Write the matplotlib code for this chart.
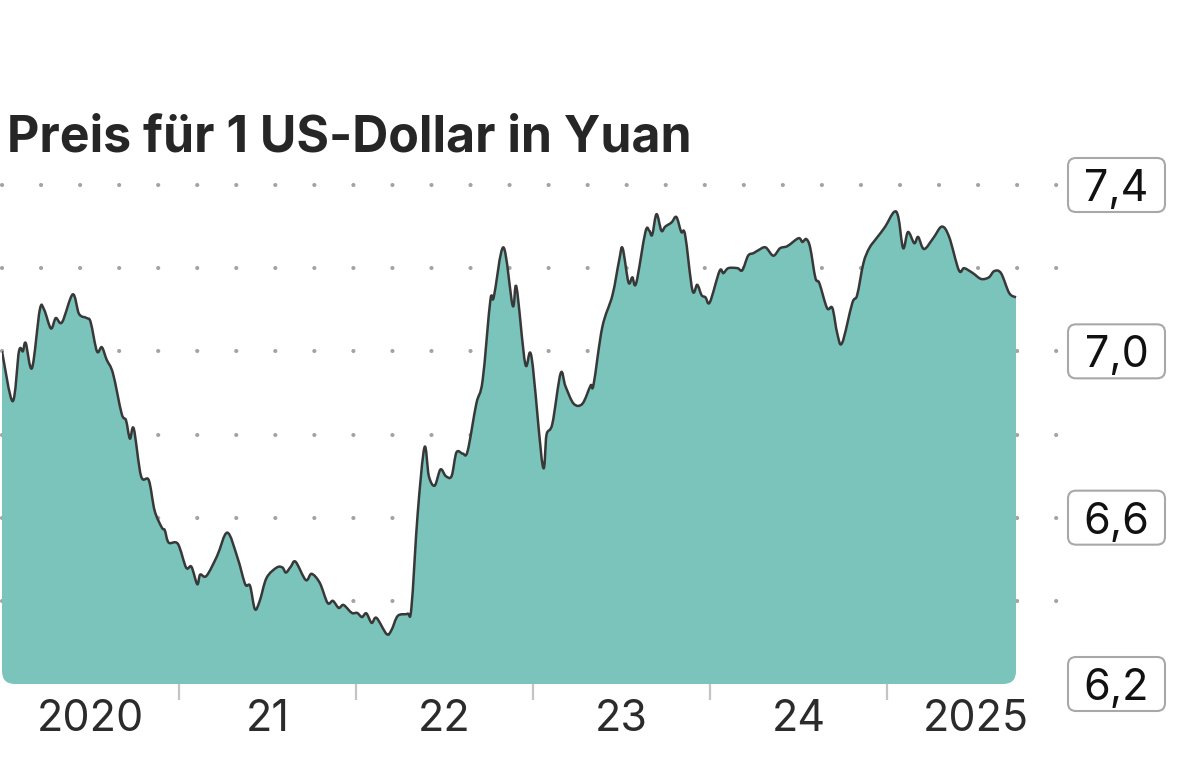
import numpy as np
import pandas as pd
import matplotlib
matplotlib.use("Agg")
import matplotlib.pyplot as plt
import matplotlib.dates as mdates
from matplotlib.patches import FancyBboxPatch, PathPatch
from matplotlib.path import Path
from matplotlib.transforms import IdentityTransform

# USD/CNY
dates = [
    "2020-01-01", "2020-01-23", "2020-02-05", "2020-02-13", "2020-02-19", "2020-03-03",
    "2020-03-19", "2020-03-28", "2020-04-11", "2020-04-21", "2020-05-04", "2020-05-26",
    "2020-06-08", "2020-06-24", "2020-07-02", "2020-07-15", "2020-07-25", "2020-08-04",
    "2020-08-17", "2020-09-04", "2020-09-13", "2020-09-21", "2020-09-29", "2020-10-14",
    "2020-10-30", "2020-11-11", "2020-11-26", "2020-12-02", "2020-12-10", "2020-12-29",
    "2021-01-15", "2021-01-26", "2021-02-07", "2021-02-13", "2021-02-26", "2021-03-20",
    "2021-04-10", "2021-05-01", "2021-05-17", "2021-05-27", "2021-06-06", "2021-06-16",
    "2021-06-30", "2021-07-21", "2021-08-02", "2021-08-09", "2021-08-19", "2021-08-29",
    "2021-09-19", "2021-10-01", "2021-10-18", "2021-11-03", "2021-11-14", "2021-11-26",
    "2021-12-06", "2021-12-23", "2022-01-03", "2022-01-13", "2022-01-22", "2022-02-02",
    "2022-02-12", "2022-03-05", "2022-03-15", "2022-03-28", "2022-04-17", "2022-04-25",
    "2022-05-08", "2022-05-22", "2022-05-31", "2022-06-12", "2022-06-24", "2022-07-05",
    "2022-07-17", "2022-07-27", "2022-08-09", "2022-08-19", "2022-09-06", "2022-09-19",
    "2022-10-05", "2022-10-12", "2022-11-01", "2022-11-20", "2022-11-28", "2022-12-16",
    "2022-12-29", "2023-01-21", "2023-01-29", "2023-02-10", "2023-02-27", "2023-03-09",
    "2023-03-26", "2023-04-13", "2023-04-30", "2023-05-06", "2023-05-24", "2023-06-14",
    "2023-06-28", "2023-07-05", "2023-07-17", "2023-07-25", "2023-08-02", "2023-08-21",
    "2023-08-29", "2023-09-04", "2023-09-13", "2023-09-23", "2023-10-01", "2023-10-14",
    "2023-10-24", "2023-11-03", "2023-11-11", "2023-11-26", "2023-12-06", "2023-12-15",
    "2023-12-23", "2024-01-01", "2024-01-21", "2024-01-29", "2024-02-08", "2024-02-27",
    "2024-03-08", "2024-03-20", "2024-03-31", "2024-04-10", "2024-04-25", "2024-05-11",
    "2024-05-25", "2024-06-09", "2024-07-02", "2024-07-10", "2024-07-18", "2024-07-26",
    "2024-08-06", "2024-08-14", "2024-08-30", "2024-09-10", "2024-09-20", "2024-09-30",
    "2024-10-21", "2024-10-31", "2024-11-13", "2024-11-25", "2024-12-12", "2024-12-28",
    "2025-01-15", "2025-01-24", "2025-02-03", "2025-02-13", "2025-02-26", "2025-03-06",
    "2025-03-18", "2025-04-06", "2025-04-24", "2025-05-09", "2025-05-29", "2025-06-09",
    "2025-06-27", "2025-07-14", "2025-07-30", "2025-08-10", "2025-08-24", "2025-09-10",
    "2025-09-24",
]
rates = [
    7.00, 6.88, 7.00, 7.00, 7.02, 6.96,
    7.10, 7.10, 7.055, 7.08, 7.07, 7.137,
    7.09, 7.08, 7.07, 7.00, 7.01, 6.98,
    6.947, 6.85, 6.834, 6.79, 6.814, 6.70,
    6.69, 6.617, 6.576, 6.57, 6.54, 6.537,
    6.48, 6.482, 6.44, 6.463, 6.46, 6.508,
    6.564, 6.504, 6.44, 6.436, 6.38, 6.40,
    6.455, 6.48, 6.48, 6.468, 6.482, 6.494,
    6.45, 6.465, 6.443, 6.395, 6.40, 6.383,
    6.39, 6.371, 6.371, 6.361, 6.37, 6.347,
    6.359, 6.32, 6.33, 6.364, 6.369, 6.383,
    6.61, 6.769, 6.70, 6.677, 6.716, 6.70,
    6.70, 6.757, 6.754, 6.76, 6.874, 6.93,
    7.123, 7.13, 7.25, 7.11, 7.154, 6.97,
    6.986, 6.725, 6.80, 6.826, 6.947, 6.916,
    6.874, 6.874, 6.918, 6.92, 7.058, 7.135,
    7.22, 7.248, 7.166, 7.178, 7.164, 7.287,
    7.29, 7.28, 7.33, 7.29, 7.30, 7.31,
    7.323, 7.287, 7.28, 7.147, 7.16, 7.135,
    7.13, 7.118, 7.193, 7.188, 7.20, 7.20,
    7.195, 7.23, 7.236, 7.243, 7.25, 7.23,
    7.248, 7.253, 7.272, 7.263, 7.27, 7.25,
    7.176, 7.164, 7.104, 7.104, 7.043, 7.02,
    7.116, 7.135, 7.212, 7.248, 7.275, 7.30,
    7.335, 7.323, 7.248, 7.287, 7.26, 7.275,
    7.246, 7.272, 7.30, 7.275, 7.195, 7.20,
    7.188, 7.174, 7.178, 7.193, 7.188, 7.14,
    7.13,
]

grid_levels = [6.4, 6.6, 6.8, 7.0, 7.2, 7.4]
label_levels = [7.4, 7.0, 6.6, 6.2]
year_labels = ["2020", "21", "22", "23", "24", "2025"]

title = "Preis für 1 US-Dollar in Yuan"

fill_color = "#7ac4bb"
line_color = "#383838"
dot_color = "#a3a3a3"
font = ["Inter", "DejaVu Sans"]
base = 6.2


def smooth_path(px, py):
    # catmull-rom style bezier through the points (drawing only)
    pts = np.column_stack([px, py])
    verts = [pts[0]]
    codes = [Path.MOVETO]
    n = len(pts)
    for i in range(n - 1):
        p0 = pts[max(i - 1, 0)]
        p1 = pts[i]
        p2 = pts[i + 1]
        p3 = pts[min(i + 2, n - 1)]
        c1 = p1 + (p2 - p0) / 6.0
        c2 = p2 - (p3 - p1) / 6.0
        verts += [c1, c2, p2]
        codes += [Path.CURVE4] * 3
    return verts, codes


x = mdates.date2num(pd.to_datetime(dates))
y = np.array(rates)

W, H = 1200, 765
fig = plt.figure(figsize=(W / 100, H / 100), dpi=100)
plt.rcParams["font.family"] = font

# axes: 2020-01-01 at px 2, 2026-01-01 at px 1064, 6.2 at px 684, 7.4 at px 185
ax = fig.add_axes([2 / W, (H - 684) / H, 1062 / W, 499 / H])
ax.set_xlim(pd.Timestamp("2020-01-01"), pd.Timestamp("2026-01-01"))
ax.set_ylim(base, 7.4)
ax.set_facecolor("none")
for s in ax.spines.values():
    s.set_visible(False)

# dotted grid
for lv in grid_levels:
    ax.plot([pd.Timestamp("2020-01-01"), pd.Timestamp("2025-12-22")], [lv, lv],
            color=dot_color, lw=3.0, linestyle=(0, (0.01, 9.36)),
            dash_capstyle="round", zorder=1, clip_on=False)

verts, codes = smooth_path(x, y)
line_path = Path(verts, codes)
area_path = Path(verts + [(x[-1], base), (x[0], base), (x[0], y[0])],
                 codes + [Path.LINETO, Path.LINETO, Path.CLOSEPOLY])
area = PathPatch(area_path, fc=fill_color, lw=0, zorder=2)
ax.add_patch(area)
ax.add_patch(PathPatch(line_path, fc="none", ec=line_color, lw=1.8, zorder=3,
                       joinstyle="round", capstyle="butt"))

# round the bottom corners of the area
fig.canvas.draw()
x0, y0 = ax.transData.transform((x[0], base))
x1, _ = ax.transData.transform((x[-1], base))
clip = FancyBboxPatch((x0, y0), x1 - x0, 600, boxstyle="round,pad=0,rounding_size=13",
                      transform=IdentityTransform())
area.set_clip_path(clip)

# x ticks: year boundaries, labels mid-year
years = list(range(2020, 2026))
ax.set_xticks([pd.Timestamp(f"{yr}-01-01") for yr in years[1:]])
ax.set_xticklabels([])
ax.tick_params(axis="x", which="major", length=11.5, width=1.6, color="#c4c4c4")
ax.set_xticks([pd.Timestamp(f"{yr}-07-02") for yr in years], minor=True)
ax.set_xticklabels(year_labels, minor=True, fontsize=31, color="#2b2b2b")
ax.tick_params(axis="x", which="minor", length=0, pad=11)
ax.set_yticks([])

# value labels in rounded boxes on the right
for lv in label_levels:
    _, py = ax.transData.transform((0, lv))
    box = FancyBboxPatch((1068, py - 27), 97, 54, boxstyle="round,pad=0,rounding_size=8",
                         transform=IdentityTransform(), fc="white", ec="#a8a8a8", lw=1.5)
    fig.patches.append(box)
    box.set_figure(fig)
    fig.text(1116.5 / W, py / H, f"{lv:.1f}".replace(".", ","), ha="center", va="center_baseline",
             fontsize=31, color="#111111")

fig.text(7 / W, 1 - 152 / H, title, fontsize=36, fontweight="bold", color="#262626",
         ha="left", va="baseline")

fig.savefig("out.png", dpi=100)
